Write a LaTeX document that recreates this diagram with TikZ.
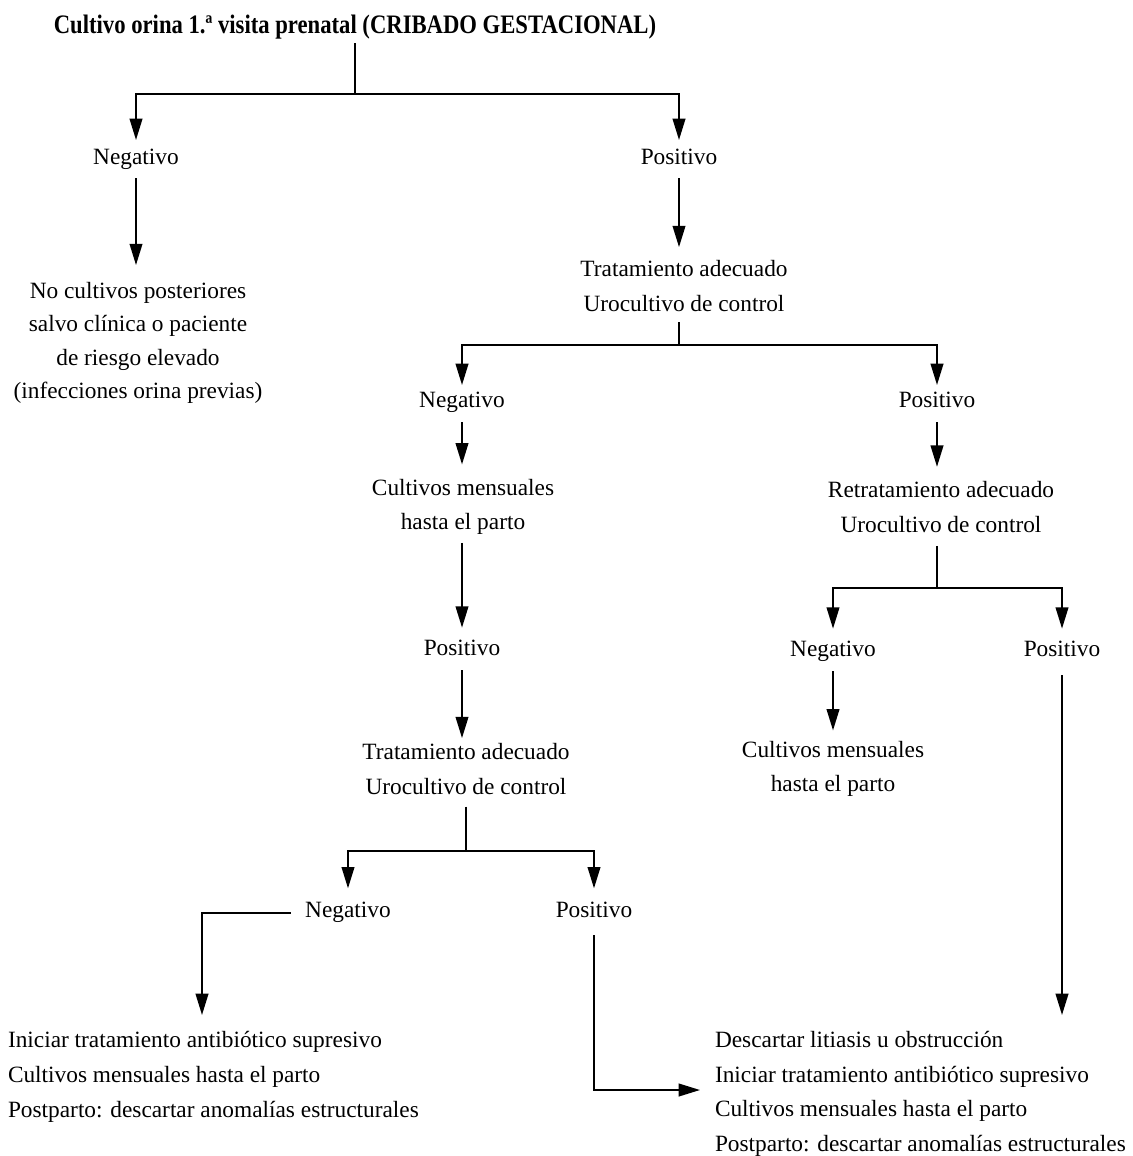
\documentclass[tikz,border=0pt]{standalone}
\usepackage{fontspec}
\setmainfont{Liberation Serif}
\newfontfamily\titlefont{Liberation Serif}[FakeStretch=0.85]
\usetikzlibrary{arrows.meta}
\begin{document}
\begin{tikzpicture}[x=0.75pt,y=-0.75pt,
  txt/.style={inner sep=0pt, outer sep=0pt, font=\fontsize{17.5}{26}\selectfont},
  lbl/.style={txt, text height=11pt, text depth=4pt},
  blk/.style={txt, align=center},
  lst/.style={txt, align=left, anchor=west},
  ln/.style={line width=1.4pt},
  arr/.style={ln, -{Triangle[length=16pt,width=9.5pt]}}]
\useasboundingbox (0,0) rectangle (1132,1156);
% nodes
\node[txt,font=\titlefont\fontsize{20}{24}\selectfont\bfseries] (title) at (355,27) {Cultivo orina 1.ª visita prenatal (CRIBADO GESTACIONAL)};
\coordinate (j0) at (355,94);
\node[lbl] (n1) at (136,160) {Negativo};
\node[lbl] (p1) at (679,160) {Positivo};
\node[blk,font=\fontsize{17.5}{25}\selectfont] (nocult) at (138,343) {No cultivos posteriores\\salvo clínica o paciente\\de riesgo elevado\\(infecciones orina previas)};
\node[blk] (t1) at (684,286) {Tratamiento adecuado\\Urocultivo de control};
\coordinate (j1) at (679,345);
\node[lbl] (n2) at (462,403) {Negativo};
\node[lbl] (p2) at (937,403) {Positivo};
\node[blk] (cm1) at (463,507) {Cultivos mensuales\\hasta el parto};
\node[lbl] (p3) at (462,651) {Positivo};
\node[blk] (t2) at (466,769) {Tratamiento adecuado\\Urocultivo de control};
\coordinate (j3) at (466,851);
\node[lbl] (n4) at (348,913) {Negativo};
\node[lbl] (p4) at (594,913) {Positivo};
\node[lst] (bl) at (8,1077) {Iniciar tratamiento antibiótico supresivo\\Cultivos mensuales hasta el parto\\Postparto: descartar anomalías estructurales};
\node[blk] (rt) at (941,507) {Retratamiento adecuado\\Urocultivo de control};
\coordinate (j2) at (937,588);
\node[lbl] (n3) at (833,652) {Negativo};
\node[lbl] (p5) at (1062,652) {Positivo};
\node[blk] (cm2) at (833,769) {Cultivos mensuales\\hasta el parto};
\node[lst] (br) at (715,1094) {Descartar litiasis u obstrucción\\Iniciar tratamiento antibiótico supresivo\\Cultivos mensuales hasta el parto\\Postparto: descartar anomalías estructurales};
\coordinate (blin) at (202,1015);
\coordinate (brin) at (700,1090);
\coordinate (brtop) at (1062,1015);
% connectors
\draw[ln,shorten <=3pt] (title) -- (j0);
\draw[arr,shorten >=7.5pt] (j0) -| (n1);
\draw[arr,shorten >=7.5pt] (j0) -| (p1);
\draw[arr,shorten <=6pt,shorten >=13pt] (n1) -- (n1 |- nocult.north);
\draw[arr,shorten <=6pt,shorten >=10pt] (p1) -- (p1 |- t1.north);
\draw[ln,shorten <=8pt] (p1 |- t1.south) -- (j1);
\draw[arr,shorten >=6pt] (j1) -| (n2);
\draw[arr,shorten >=6pt] (j1) -| (p2);
\draw[arr,shorten <=7pt,shorten >=11pt] (n2) -- (n2 |- cm1.north);
\draw[arr,shorten <=6pt,shorten >=10pt] (n2 |- cm1.south) -- (p3);
\draw[arr,shorten <=7pt,shorten >=4pt] (p3) -- (p3 |- t2.north);
\draw[ln,shorten <=9pt] (t2.south) -- (j3);
\draw[arr,shorten >=11pt] (j3) -| (n4);
\draw[arr,shorten >=11pt] (j3) -| (p4);
\draw[arr,shorten <=11pt] (n4) -| (blin);
\draw[arr,shorten <=9pt] (p4) |- (brin);
\draw[arr,shorten <=7pt,shorten >=11pt] (p2) -- (p2 |- rt.north);
\draw[ln,shorten <=10pt] (p2 |- rt.south) -- (j2);
\draw[arr,shorten >=10pt] (j2) -| (n3);
\draw[arr,shorten >=10pt] (j2) -| (p5);
\draw[arr,shorten <=7pt,shorten >=8pt] (n3) -- (n3 |- cm2.north);
\draw[arr,shorten <=10pt] (p5) -- (brtop);
\end{tikzpicture}
\end{document}
